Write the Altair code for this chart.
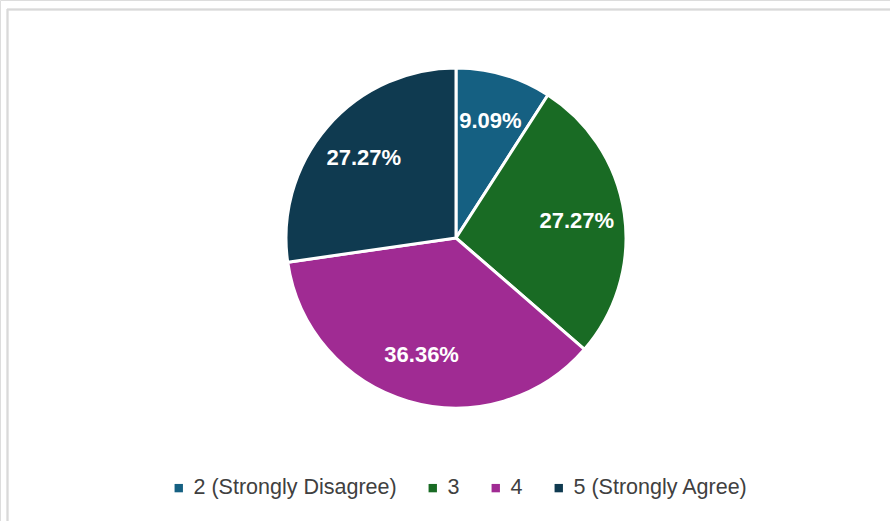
import altair as alt
import pandas as pd

categories = ["2 (Strongly Disagree)", "3", "4", "5 (Strongly Agree)"]
counts = [1, 3, 4, 3]
labels = ["9.09%", "27.27%", "36.36%", "27.27%"]
colors = ["#156082", "#196B24", "#A02B93", "#0F3A50"]

df = pd.DataFrame({"cat": categories, "n": counts, "label": labels,
                   "order": list(range(len(categories)))})

W, H = 890, 521
CX, CY, R = 456, 238, 170

base = alt.Chart(df).encode(
    theta=alt.Theta("n:Q", stack=True),
    order=alt.Order("order:Q"),
)

pie = base.mark_arc(radius=R, stroke="white", strokeWidth=3).encode(
    x=alt.value(CX), y=alt.value(CY),
    color=alt.Color("cat:N", sort=categories,
                    scale=alt.Scale(domain=categories, range=colors),
                    legend=alt.Legend(
                        title=None, orient="none", direction="horizontal",
                        legendX=168, legendY=477,
                        symbolType="square", symbolSize=70, symbolStrokeWidth=0,
                        labelFont="Liberation Sans", labelFontSize=21.5,
                        labelLimit=0,
                        labelColor="#404040", columnPadding=25, symbolOffset=0,
                        labelOffset=4)),
)

text = base.mark_text(radius=122, font="Liberation Sans", fontSize=22,
                      fontWeight="bold", color="white").encode(
    x=alt.value(CX), y=alt.value(CY), text="label:N")

border_top = alt.Chart(df).mark_rule(color="#d9d9d9", strokeWidth=1.5).encode(
    x=alt.value(7), x2=alt.value(890), y=alt.value(9.5))
border_left = alt.Chart(df).mark_rule(color="#d9d9d9", strokeWidth=1.5).encode(
    x=alt.value(7.5), y=alt.value(9), y2=alt.value(521))

chart = alt.layer(border_top, border_left, pie, text).properties(
    width=W, height=H, padding=0, autosize=alt.AutoSizeParams(type="none")
).configure_view(stroke=None).configure(background="white")

chart.save("out.html", embed_options={"renderer": "svg", "actions": False})
